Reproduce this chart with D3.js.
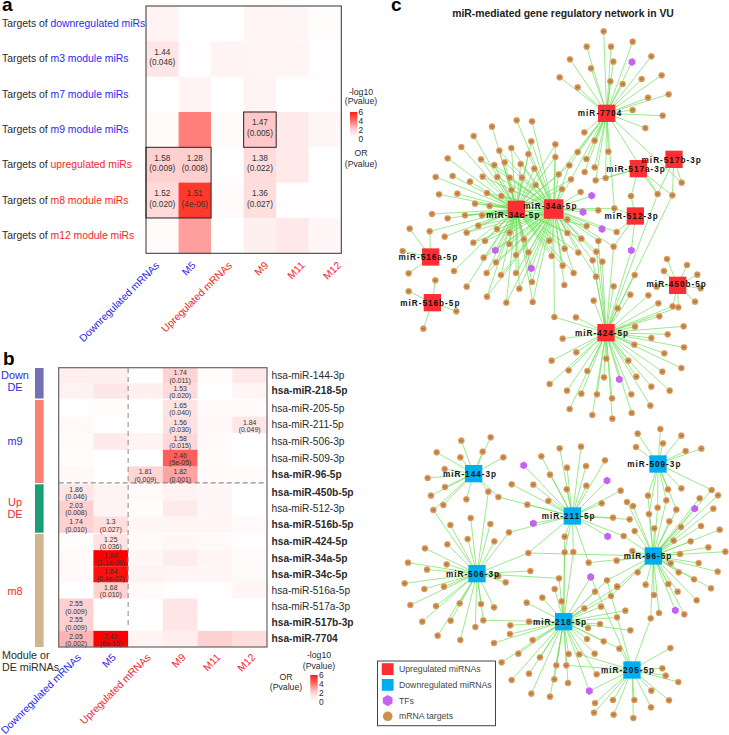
<!DOCTYPE html>
<html><head><meta charset="utf-8">
<script src="https://cdn.jsdelivr.net/npm/d3@7/dist/d3.min.js"></script>
<style>html,body{margin:0;padding:0;background:#fff}svg{display:block;font-family:"Liberation Sans",Arial,sans-serif}</style>
</head><body><div id="chart"></div>
<script>
// ---------- Panel a data ----------
const colsA = ["Downregulated mRNAs","M5","Upregulated mRNAs","M9","M11","M12"];
const colColors = ["blue","blue","red","red","red","red"];
const rowsAPrefix = "Targets of ";
const rowsA = ["downregulated miRs","m3 module miRs","m7 module miRs","m9 module miRs","upregulated miRs","m8 module miRs","m12 module miRs"];
const rowsAColors = ["blue","blue","blue","blue","red","red","red"];
const valuesA = [
 [0.6,0.05,0.05,0.5,0.4,0.15],
 [1.34,0.1,0.6,0.5,0.5,0.1],
 [0,0.6,0,0.6,0.05,0.1],
 [0.2,3.7,0.2,2.3,1.1,0.4],
 [2.05,2.1,0.05,1.65,1.1,0.05],
 [1.7,5.4,0.2,1.57,0.1,0.1],
 [0.25,3.1,0.02,0.8,1.2,0.4]];
const labelsA = [
 ["","","","","",""],
 ["1.44|(0.046)","","","","",""],
 ["","","","","",""],
 ["","","","1.47|(0.005)","",""],
 ["1.58|(0.009)","1.28|(0.008)","","1.38|(0.022)","",""],
 ["1.52|(0.020)","1.51|(4e-06)","","1.36|(0.027)","",""],
 ["","","","","",""]];
// ---------- Panel b data ----------
const groupsB = ["Down DE","m9","Up DE","m8"];
const groupSizes = [2,5,3,7];
const rowsB = ["hsa-miR-144-3p","hsa-miR-218-5p","hsa-miR-205-5p","hsa-miR-211-5p","hsa-miR-506-3p","hsa-miR-509-3p","hsa-miR-96-5p","hsa-miR-450b-5p","hsa-miR-512-3p","hsa-miR-516b-5p","hsa-miR-424-5p","hsa-miR-34a-5p","hsa-miR-34c-5p","hsa-miR-516a-5p","hsa-miR-517a-3p","hsa-miR-517b-3p","hsa-miR-7704"];
const rowsBBold = [0,1,0,0,0,0,1,1,0,1,1,1,1,0,0,1,1];
const valuesB = [
 [0.9,0.8,0.1,1.96,0.15,1.2],
 [0.7,1.3,0.8,1.7,0,0.5],
 [0.05,0.15,0,1.4,0.3,0.3],
 [0.3,0.1,0,1.52,0.35,1.31],
 [0.2,1.1,0.6,1.82,0.3,0],
 [0.15,0,0,4.3,0.2,0],
 [0.35,0.05,1.9,3.0,0.3,0.2],
 [1.34,0.7,0.3,0.7,0.4,0.02],
 [2.1,0.6,0.15,1.1,0.4,0.02],
 [2.0,1.57,0.4,0.5,0.5,0.3],
 [0.15,1.44,0.2,0.4,0.3,0.1],
 [0.3,7.9,0.4,1.0,0.5,0.25],
 [0.3,6.2,0.7,0.5,0.4,0.25],
 [0,2.0,0.3,0.1,0.1,0.5],
 [2.05,0.05,0.1,1.3,0,0],
 [2.05,0.05,0.1,1.3,0,0],
 [2.7,14.2,0.6,0.9,2.0,1.6]];
const labelsB = [
 ["","","","1.74|(0.011)","",""],
 ["","","","1.53|(0.020)","",""],
 ["","","","1.65|(0.040)","",""],
 ["","","","1.56|(0.030)","","1.84|(0.049)"],
 ["","","","1.58|(0.015)","",""],
 ["","","","2.46|(5e-05)","",""],
 ["","","1.81|(0.009)","1.82|(0.001)","",""],
 ["1.86|(0.046)","","","","",""],
 ["2.03|(0.008)","","","","",""],
 ["1.74|(0.010)","1.3|(0.027)","","","",""],
 ["","1.25|(0.036)","","","",""],
 ["","1.64|(1.1e-08)","","","",""],
 ["","1.64|(6.4e-07)","","","",""],
 ["","1.68|(0.010)","","","",""],
 ["2.55|(0.009)","","","","",""],
 ["2.55|(0.009)","","","","",""],
 ["2.05|(0.002)","2.42|(6e-15)","","","",""]];
const legendTicks = [0,2,4,6];
// ---------- Panel c data (layout units) ----------
const hubNames = ["miR-7704","miR-517b-3p","miR-517a-3p","miR-34c-5p","miR-34a-5p","miR-512-3p","miR-516a-5p","miR-516b-5p","miR-450b-5p","miR-424-5p","miR-144-3p","miR-509-3p","miR-211-5p","miR-96-5p","miR-506-3p","miR-218-5p","miR-205-5p"];
const hubKinds = ["up","up","up","up","up","up","up","up","up","up","down","down","down","down","down","down","down"];
const hubU = [710,912,805,439,551,796,182,187,923,708,311,864,607,850,321,581,786];
const hubV = [340,478,506,628,627,648,771,908,856,998,1421,1392,1548,1668,1721,1865,2010];
const labelU = [690,905,798,430,541,785,175,181,920,696,300,853,596,834,309,570,774];
const labelV = [340,480,507,644,617,648,772,909,853,998,1421,1392,1548,1668,1721,1865,2010];
const tfNodes = [[786,186],[376,751],[484,805],[665,587],[639,636],[696,687],[784,751],[748,1138],[461,1396],[711,1442],[490,1570],[713,1609],[974,1526],[916,1831],[662,1731],[658,2073]];
const targets7704 = [[701,94],[650,140],[723,140],[788,125],[844,169],[600,178],[730,185],[663,205],[569,232],[623,262],[721,244],[758,252],[815,237],[875,226],[896,283],[834,293],[788,330],[878,347],[826,384],[786,186],[643,397],[674,422],[715,455],[623,456],[649,477],[598,496],[674,502],[644,516],[603,538],[707,534],[677,541],[566,523],[733,625],[863,582],[935,548]];
const targets517b = [[863,582],[907,586],[935,548]];
const targets517a = [[863,582],[907,586],[783,588],[707,534],[677,541]];
const targets512 = [[783,588],[733,625],[740,696],[731,740],[784,751]];
const targets34cOnly = [[366,380],[311,408],[274,441],[233,475],[197,531],[248,528],[300,545],[207,583],[262,581],[186,642],[233,655],[179,694],[224,710],[252,813],[290,860]];
const targets34aOnly = [[440,361],[486,364],[632,576],[685,723],[740,696],[679,755],[731,740],[668,781],[697,785],[678,830],[583,855],[685,631],[733,625],[665,587],[639,636],[696,687],[553,951]];
const targets34Both = [[333,478],[373,495],[338,530],[351,579],[336,646],[285,646],[484,424],[556,433],[556,471],[598,496],[566,523],[603,538],[576,567],[592,659],[592,699],[650,678],[634,716],[578,797],[611,819],[625,758],[424,444],[388,452],[475,462],[404,487],[452,492],[493,506],[382,531],[419,533],[456,533],[497,555],[424,570],[394,588],[315,611],[359,618],[325,677],[381,687],[290,698],[419,698],[345,723],[310,728],[462,718],[538,722],[418,732],[584,746],[545,768],[438,765],[476,757],[341,773],[378,787],[350,819],[393,825],[351,890],[409,908],[438,819],[448,866],[486,846],[488,906],[376,751],[484,805]];
const targets516a = [[119,686],[179,694],[98,753],[116,820]];
const targets516b = [[196,841],[116,874],[259,934],[160,986]];
const targets450b = [[891,777],[951,795],[882,813],[982,824],[860,860],[992,865],[975,905],[908,919],[925,922]];
const targets424 = [[553,951],[618,952],[671,902],[743,925],[731,859],[794,825],[781,884],[835,886],[865,910],[908,919],[925,922],[868,949],[795,980],[941,979],[893,1003],[844,1014],[942,1042],[883,1060],[793,1034],[934,1104],[877,1115],[578,1016],[619,1057],[545,1082],[596,1111],[652,1113],[709,1076],[775,1082],[539,1152],[702,1132],[748,1138],[799,1130],[844,1160],[591,1172],[634,1181],[681,1183],[726,1195],[784,1183],[841,1217],[899,1172],[599,1227],[667,1245],[727,1256],[785,1239],[863,582],[907,586],[668,781],[697,785],[678,830],[679,755],[731,740],[784,751],[685,723]];
const targets144 = [[362,1312],[274,1322],[200,1357],[338,1355],[271,1372],[400,1372],[224,1407],[173,1434],[225,1461],[183,1487],[289,1498],[220,1515],[190,1530],[355,1475],[385,1491]];
const targets509 = [[871,1287],[803,1301],[934,1307],[879,1330],[798,1341],[947,1353],[994,1346],[1025,1470],[834,1487],[894,1468],[934,1465],[889,1501],[863,1523],[837,1542],[919,1529]];
const targets211 = [[569,1345],[633,1340],[514,1369],[591,1403],[648,1398],[705,1381],[540,1424],[425,1453],[490,1454],[590,1468],[649,1457],[535,1503],[472,1514],[695,1510],[752,1472],[729,1553],[779,1558],[417,1597],[584,1610],[610,1656],[584,1657],[475,1659],[656,1688],[761,1608],[385,1491],[461,1396],[711,1442],[490,1570],[713,1609]];
const targets96 = [[771,1506],[789,1518],[834,1487],[863,1523],[837,1542],[889,1501],[919,1529],[898,1564],[933,1581],[853,1585],[794,1593],[993,1578],[1030,1526],[1044,1486],[989,1495],[974,1526],[1025,1470],[1049,1589],[911,1622],[962,1624],[761,1608],[1015,1642],[1066,1655],[930,1662],[986,1689],[787,1653],[902,1690],[740,1682],[656,1688],[803,1717],[926,1717],[972,1738],[1043,1715],[827,1754],[895,1752],[923,1775],[1023,1765],[852,1785],[980,1801],[867,1839],[842,1855],[916,1831],[943,1843],[741,1760],[711,1741],[723,1788],[475,1659]];
const targets506 = [[302,1554],[241,1575],[361,1572],[293,1617],[373,1624],[232,1633],[165,1645],[114,1688],[230,1693],[171,1709],[481,1713],[407,1747],[385,1728],[104,1750],[163,1767],[222,1760],[121,1815],[198,1818],[269,1810],[333,1812],[372,1822],[157,1865],[242,1862],[340,1861],[316,1881],[203,1907],[271,1920],[567,1735],[355,1475],[190,1530],[417,1597],[475,1659]];
const targets218 = [[554,1767],[575,1804],[517,1793],[470,1808],[567,1735],[477,1865],[421,1876],[420,1902],[372,1929],[488,1920],[445,1961],[510,1972],[395,1987],[477,2021],[425,2040],[559,1996],[589,1996],[553,2038],[594,2049],[484,2081],[540,2090],[596,1962],[628,1963],[674,1961],[651,1917],[701,1924],[748,1946],[690,1872],[654,1884],[781,1891],[741,1852],[693,1820],[643,1825],[766,1832],[723,1788],[675,1775],[742,1760],[711,1741],[680,2023],[658,2073],[662,1731],[584,1610],[610,1656],[584,1657],[340,1861]];
const targets205 = [[901,1944],[877,2005],[887,2027],[925,2046],[844,2072],[897,2101],[793,2100],[843,2122],[729,2100],[675,2109],[672,2138],[731,2144],[790,2154],[842,1855],[748,1946],[662,1731],[589,1996],[680,2023],[628,1963],[658,2073],[711,1741]];
const legendItems = ["Upregulated miRNAs","Downregulated miRNAs","TFs","mRNA targets"];

const hubTargets = {
 "miR-7704":[targets7704],"miR-517b-3p":[targets517b],"miR-517a-3p":[targets517a],"miR-512-3p":[targets512],
 "miR-34c-5p":[targets34cOnly,targets34Both],"miR-34a-5p":[targets34aOnly,targets34Both],
 "miR-516a-5p":[targets516a],"miR-516b-5p":[targets516b],"miR-450b-5p":[targets450b],"miR-424-5p":[targets424],
 "miR-144-3p":[targets144],"miR-509-3p":[targets509],"miR-211-5p":[targets211],"miR-96-5p":[targets96],
 "miR-506-3p":[targets506],"miR-218-5p":[targets218],"miR-205-5p":[targets205]};

const W=729,H=735;
const svg=d3.select("#chart").append("svg").attr("width",W).attr("height",H);
const BLUE="#2a2aee",RED="#f5262a",TXT="#2b2b2b";
const hue=k=>k==="blue"?BLUE:RED;
const color=d3.scaleLinear().domain([0,1.3,2.3,4.3,5.4,6.5]).range(["#ffffff","#ffe6e6","#ffc9c9","#ff5f5a","#ff3a2c","#ff0000"]).clamp(true);

// panel letters
[["a",2,10.5],["b",3,365],["c",391,10.5]].forEach(([t,x,y])=>svg.append("text").attr("x",x).attr("y",y).attr("font-size",19).attr("font-weight","bold").attr("fill","#000").text(t));

function cellText(g,str,cx,cy,fs,dy1,dy2,fill){
  const [a,b]=str.split("|");
  g.append("text").attr("x",cx).attr("y",cy+dy1).attr("text-anchor","middle").attr("font-size",fs).attr("fill",fill).text(a);
  g.append("text").attr("x",cx).attr("y",cy+dy2).attr("text-anchor","middle").attr("font-size",fs).attr("fill",fill).text(b);
}
function colorbar(id,x,y0,y1,w,textX,fs){
  const grad=svg.append("defs").append("linearGradient").attr("id",id).attr("x1",0).attr("x2",0).attr("y1",1).attr("y2",0);
  d3.range(0,6.01,0.5).forEach(v=>grad.append("stop").attr("offset",v/6).attr("stop-color",color(v)));
  svg.append("rect").attr("x",x).attr("y",y0).attr("width",w).attr("height",y1-y0).attr("fill",`url(#${id})`);
  const s=d3.scaleLinear().domain([0,6]).range([y1,y0]);
  legendTicks.forEach(t=>svg.append("text").attr("x",textX).attr("y",s(t)+3).attr("font-size",fs).attr("fill",TXT).text(t));
}
function centered(x,y,t,fs){svg.append("text").attr("x",x).attr("y",y).attr("text-anchor","middle").attr("font-size",fs).attr("fill",TXT).text(t);}

// ---------- Panel a ----------
{
 const x=d3.scaleBand().domain(d3.range(colsA.length)).range([146,341.3]);
 const y=d3.scaleBand().domain(d3.range(rowsA.length)).range([6,253.3]);
 const g=svg.append("g");
 valuesA.forEach((r,i)=>r.forEach((v,j)=>{
   g.append("rect").attr("x",x(j)).attr("y",y(i)).attr("width",x.bandwidth()+.3).attr("height",y.bandwidth()+.3).attr("fill",color(v));
 }));
 labelsA.forEach((r,i)=>r.forEach((s,j)=>{ if(s) cellText(g,s,x(j)+x.bandwidth()/2,y(i)+y.bandwidth()/2,8.2,-4.3,6.3,"#333"); }));
 g.append("rect").attr("x",146).attr("y",6).attr("width",195.3).attr("height",247.3).attr("fill","none").attr("stroke","#333").attr("stroke-width",1);
 g.append("rect").attr("x",x(3)).attr("y",y(3)).attr("width",x.bandwidth()).attr("height",y.bandwidth()).attr("fill","none").attr("stroke","#222").attr("stroke-width",1);
 g.append("rect").attr("x",x(0)).attr("y",y(4)).attr("width",x.bandwidth()*2).attr("height",y.bandwidth()*2).attr("fill","none").attr("stroke","#222").attr("stroke-width",1);
 rowsA.forEach((t,i)=>{
   const tx=svg.append("text").attr("x",2).attr("y",y(i)+y.bandwidth()/2+3.2).attr("font-size",10.4).attr("fill",TXT);
   tx.append("tspan").text(rowsAPrefix);
   tx.append("tspan").attr("fill",hue(rowsAColors[i])).text(t);
 });
 const labelX=d3.scalePoint().domain(d3.range(colsA.length)).range([160,341.7]);
 colsA.forEach((t,j)=>{
   svg.append("text").attr("transform",`translate(${labelX(j)},266) rotate(-45)`).attr("text-anchor","end").attr("font-size",10.35).attr("fill",hue(colColors[j])).text(t);
 });
 centered(361,94.5,"-log10",8.7); centered(361,104,"(Pvalue)",8.7);
 colorbar("cbA",350,112,138.5,7.3,358.5,8.4);
 centered(361,156,"OR",8.7); centered(361,166.5,"(Pvalue)",8.7);
}

// ---------- Panel b ----------
{
 const x=d3.scaleBand().domain(d3.range(colsA.length)).range([58.7,267]);
 const groupRanges=[[368,398.5],[400,483],[484.3,532.7],[534,647]];
 const rowY=[],rowH=[];
 let k=0;
 groupSizes.forEach((n,gi)=>{
   const s=d3.scaleBand().domain(d3.range(n)).range(groupRanges[gi]);
   d3.range(n).forEach(i=>{rowY[k]=s(i);rowH[k]=s.bandwidth();k++;});
 });
 const g=svg.append("g");
 valuesB.forEach((r,i)=>r.forEach((v,j)=>{
   g.append("rect").attr("x",x(j)).attr("y",rowY[i]).attr("width",x.bandwidth()+.3).attr("height",rowH[i]+.2).attr("fill",color(v));
 }));
 labelsB.forEach((r,i)=>r.forEach((s,j)=>{ if(s) cellText(g,s,x(j)+x.bandwidth()/2,rowY[i]+rowH[i]/2,6.9,-0.3,6.9,"#333"); }));
 g.append("rect").attr("x",58.7).attr("y",367.7).attr("width",208.3).attr("height",279.3).attr("fill","none").attr("stroke","#666").attr("stroke-width",1.2);
 g.append("line").attr("x1",x(2)).attr("x2",x(2)).attr("y1",368).attr("y2",628).attr("stroke","#888").attr("stroke-width",1).attr("stroke-dasharray","5,4");
 g.append("line").attr("x1",58.7).attr("x2",267).attr("y1",482.9).attr("y2",482.9).attr("stroke","#777").attr("stroke-width",1).attr("stroke-dasharray","5,3");
 rowsB.forEach((t,i)=>svg.append("text").attr("x",271.5).attr("y",rowY[i]+rowH[i]/2+3.4).attr("font-size",10.2).attr("font-weight",rowsBBold[i]?"bold":"normal").attr("fill",TXT).text(t));
 const barColors=["#7570b3","#fb8072","#1b9e77","#d0b48c"];
 groupsB.forEach((t,gi)=>{
   const [a,b]=groupRanges[gi];
   svg.append("rect").attr("x",35).attr("y",a).attr("width",8.6).attr("height",b-a).attr("fill",barColors[gi]);
 });
 const groupLabelColors=["blue","blue","red","red"];
 const gl=(gi,lines,ys)=>lines.forEach((l,i)=>svg.append("text").attr("x",15).attr("y",ys[i]).attr("text-anchor","middle").attr("font-size",10.9).attr("fill",hue(groupLabelColors[gi])).text(l));
 gl(0,["Down","DE"],[379,391.3]); gl(1,["m9"],[445]); gl(2,["Up","DE"],[506,518]); gl(3,["m8"],[594.5]);
 svg.append("text").attr("x",2).attr("y",658.8).attr("font-size",10.7).attr("fill",TXT).text("Module or");
 svg.append("text").attr("x",2).attr("y",671.2).attr("font-size",10.7).attr("fill",TXT).text("DE miRNAs");
 const labelX=d3.scalePoint().domain(d3.range(colsA.length)).range([81.7,256]);
 colsA.forEach((t,j)=>{
   svg.append("text").attr("transform",`translate(${labelX(j)},658) rotate(-45)`).attr("text-anchor","end").attr("font-size",10.35).attr("fill",hue(colColors[j])).text(t);
 });
 centered(319,658.3,"-log10",8.7); centered(319,668.8,"(Pvalue)",8.7);
 colorbar("cbB",310.3,675,701.7,7.4,319,8.4);
 centered(286,679.7,"OR",8.7); centered(286,690,"(Pvalue)",8.7);
}

// ---------- Panel c ----------
{
 const sx=d3.scaleLinear().domain([0,1077]).range([370,729]);
 const sy=d3.scaleLinear().domain([0,2205]).range([0,735]);
 svg.append("text").attr("x",563).attr("y",17.3).attr("text-anchor","middle").attr("font-size",10.4).attr("font-weight","bold").attr("fill","#222").text("miR-mediated gene regulatory network in VU");
 const edges=[],seen=new Map();
 const tfKeys=new Set(tfNodes.map(String));
 hubNames.forEach((h,i)=>{
   hubTargets[h].forEach(list=>list.forEach(p=>{
     edges.push({h:i,p});
     seen.set(String(p),p);
   }));
 });
 tfNodes.forEach(p=>seen.set(String(p),p));
 const pts=[...seen.values()];
 const mrna=pts.filter(p=>!tfKeys.has(String(p)));
 svg.append("g").selectAll("line").data(edges).join("line")
   .attr("x1",d=>sx(hubU[d.h])).attr("y1",d=>sy(hubV[d.h]))
   .attr("x2",d=>sx(d.p[0])).attr("y2",d=>sy(d.p[1]))
   .attr("stroke","#6bde56").attr("stroke-opacity",.8).attr("stroke-width",.85);
 const mg=svg.append("g");
 mg.selectAll("circle").data(mrna).join("circle").attr("cx",d=>sx(d[0])).attr("cy",d=>sy(d[1])).attr("r",3.1).attr("fill","#cf8e4c").attr("stroke","#e3b98c").attr("stroke-width",.4);
 mg.selectAll("line").data(mrna).join("line").attr("x1",d=>sx(d[0])-1.5).attr("x2",d=>sx(d[0])+1.5).attr("y1",d=>sy(d[1])).attr("y2",d=>sy(d[1])).attr("stroke","#7a5226").attr("stroke-width",.5);
 const hex=r=>d3.range(6).map(i=>[r*Math.sin(i*Math.PI/3),-r*Math.cos(i*Math.PI/3)].join(",")).join(" ");
 svg.append("g").selectAll("polygon").data(tfNodes).join("polygon").attr("points",hex(3.9)).attr("transform",d=>`translate(${sx(d[0])},${sy(d[1])})`).attr("fill","#c563f0");
 const hubColor={up:"#ff2e33",down:"#00aeef"};
 const hg=svg.append("g");
 hubNames.forEach((h,i)=>{
   const s=h==="miR-34a-5p"?19.5:17.3;
   hg.append("rect").attr("x",sx(hubU[i])-s/2).attr("y",sy(hubV[i])-s/2).attr("width",s).attr("height",s).attr("fill",hubColor[hubKinds[i]]);
 });
 hubNames.forEach((h,i)=>{
   hg.append("text").attr("x",sx(labelU[i])).attr("y",sy(labelV[i])+3).attr("text-anchor","middle").attr("font-size",8.2).attr("font-weight","bold").attr("letter-spacing","1px").attr("fill","#111").text(h);
 });
 // legend
 const lg=svg.append("g");
 lg.append("rect").attr("x",377.5).attr("y",661).attr("width",118).attr("height",64.7).attr("fill","#fff").attr("stroke","#444").attr("stroke-width",1);
 const ly=d3.scalePoint().domain(legendItems).range([669,716.3]);
 legendItems.forEach((t,i)=>{
   const yy=ly(t);
   if(i<2) lg.append("rect").attr("x",381.8).attr("y",yy-5.8).attr("width",11.8).attr("height",11.8).attr("fill",hubColor[i===0?"up":"down"]);
   if(i===2) lg.append("polygon").attr("points",hex(5.6)).attr("transform",`translate(387.7,${yy})`).attr("fill","#c563f0");
   if(i===3) lg.append("circle").attr("cx",387.7).attr("cy",yy).attr("r",4.8).attr("fill","#cf8e4c");
   lg.append("text").attr("x",399).attr("y",yy+3).attr("font-size",8.7).attr("fill","#444").text(t);
 });
}
</script></body></html>
